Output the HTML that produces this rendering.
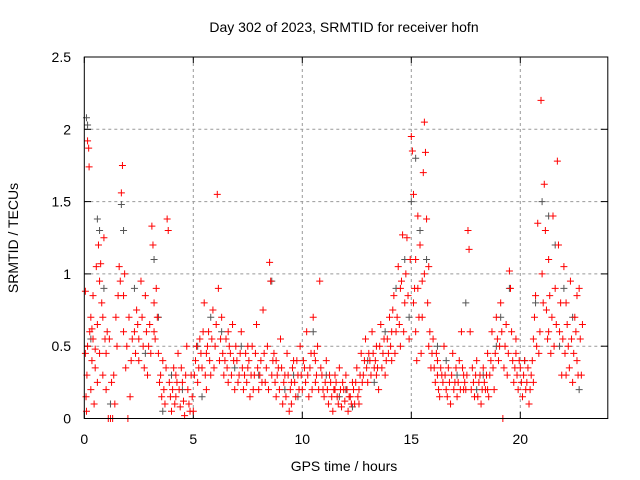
<!DOCTYPE html>
<html><head><meta charset="utf-8"><style>
html,body{margin:0;padding:0;background:#fff;}
svg{display:block;font-family:"Liberation Sans",sans-serif;}
</style></head><body>
<svg id="chart" width="640" height="480" viewBox="0 0 640 480" xmlns="http://www.w3.org/2000/svg">
<text x="344" y="32" font-size="14" text-anchor="middle">Day 302 of 2023, SRMTID for receiver hofn</text>
<text x="344" y="471" font-size="14" text-anchor="middle">GPS time / hours</text>
<text x="18" y="238" font-size="14" text-anchor="middle" transform="rotate(-90 18 238)">SRMTID / TECUs</text>
<g id="grid"></g>
<g id="ticks"></g>
<g id="gray"></g>
<g id="red"></g>
<rect x="84.3" y="57" width="523.5" height="361.5" fill="none" stroke="#000" stroke-width="1"/>
</svg>
<script>
const xTicks=[0,5,10,15,20];
const yTicks=[0,0.5,1,1.5,2,2.5];
const yTickLabels=["0","0.5","1","1.5","2","2.5"];
const grayPoints=[[0.1,2.08],[0.15,2.03],[0.3,0.55],[0.6,1.38],[0.7,1.3],[0.9,0.9],[1.7,1.48],[1.8,1.3],[2.3,0.9],[3.2,1.1],[3.4,0.7],[4.0,0.3],[4.5,0.2],[5.2,0.5],[5.8,0.7],[6.3,0.6],[7.2,0.5],[8.0,0.3],[8.6,0.95],[9.2,0.2],[9.8,0.15],[10.5,0.6],[11.1,0.3],[12.0,0.2],[13.0,0.4],[13.8,0.6],[14.3,0.9],[14.7,1.1],[15.0,1.5],[15.2,1.8],[15.4,1.3],[15.7,1.1],[16.2,0.5],[17.1,0.3],[17.5,0.8],[18.3,0.3],[19.1,0.7],[19.5,0.9],[20.2,0.4],[20.7,0.8],[21.0,1.5],[21.3,1.4],[21.6,1.2],[22.0,0.9],[22.4,0.7],[22.7,0.2],[3.6,0.05],[12.3,0.08],[1.2,0.1],[18.9,0.5],[6.9,0.35],[9.6,0.3],[13.3,0.25],[16.6,0.4],[18.0,0.2],[21.8,0.5],[2.8,0.45],[5.4,0.15],[11.7,0.15],[14.9,0.7]];
const redPoints=[
[0.05,0.88],[0.05,0.45],[0.08,0.15],[0.1,0.05],[0.12,0.3],[0.15,1.92],[0.2,1.87],[0.22,1.74],[0.25,0.6],[0.3,0.7],[0.3,0.2],[0.35,0.4],[0.4,0.85],[0.45,0.1],[0.5,0.35],[0.55,1.05],[0.6,0.65],[0.65,1.2],[0.7,0.45],[0.75,1.07],[0.8,0.8],[0.85,0.3],[0.9,1.25],[0.95,0.55],[1.0,0.2],[1.05,0.6],[1.1,0],[1.2,0],[1.3,0],[1.25,0.25],[1.4,0.1],[1.5,0.5],[1.55,0.85],[1.6,1.05],[1.65,0.95],[1.7,1.56],[1.75,1.75],[1.8,0.6],[1.9,0.35],[2.0,0],[2.05,0.7],[2.1,0.15],[2.2,0.55],[2.3,0.6],[2.4,0.75],[2.5,0.4],[2.6,0.95],[2.7,0.5],[2.8,0.85],[2.9,0.3],[3.0,0.65],[3.1,1.33],[3.15,1.2],[3.2,0.8],[3.3,0.9],[3.4,0.45],[3.5,0.3],[3.55,0.15],[3.6,0.4],[3.7,0.1],[3.8,1.38],[3.85,1.3],[3.9,0.25],[4.0,0.05],[4.1,0.35],[4.2,0.15],[4.3,0.45],[4.4,0.08],[4.5,0.25],[4.6,0.02],[4.7,0.5],[4.8,0.1],[4.9,0.3],[5.0,0.05],[5.1,0.4],[5.2,0.25],[5.3,0.55],[5.4,0.35],[5.5,0.8],[5.6,0.45],[5.7,0.6],[5.8,0.3],[5.9,0.75],[6.0,0.5],[6.1,1.55],[6.15,0.9],[6.2,0.4],[6.3,0.7],[6.4,0.3],[6.5,0.55],[6.6,0.25],[6.7,0.45],[6.8,0.65],[6.9,0.2],[7.0,0.4],[7.1,0.3],[7.2,0.6],[7.3,0.2],[7.4,0.45],[7.5,0.35],[7.6,0.15],[7.7,0.5],[7.8,0.3],[7.9,0.65],[8.0,0.2],[8.1,0.4],[8.2,0.75],[8.3,0.25],[8.4,0.5],[8.5,1.08],[8.55,0.95],[8.6,0.3],[8.7,0.45],[8.8,0.15],[8.9,0.35],[9.0,0.55],[9.1,0.1],[9.2,0.3],[9.3,0.45],[9.4,0.05],[9.5,0.25],[9.6,0.4],[9.7,0.15],[9.8,0.3],[9.9,0.5],[10.0,0.2],[10.1,0.35],[10.2,0.6],[10.3,0.15],[10.4,0.45],[10.5,0.7],[10.6,0.25],[10.7,0.5],[10.8,0.95],[10.9,0.3],[11.0,0.15],[11.1,0.4],[11.2,0.1],[11.3,0.25],[11.4,0.05],[11.5,0.3],[11.6,0.15],[11.7,0.35],[11.8,0.08],[11.9,0.2],[12.0,0.3],[12.1,0.05],[12.2,0.15],[12.3,0.25],[12.4,0.1],[12.5,0.35],[12.6,0.2],[12.7,0.45],[12.8,0.3],[12.9,0.55],[13.0,0.25],[13.1,0.4],[13.2,0.6],[13.3,0.35],[13.4,0.5],[13.5,0.2],[13.6,0.65],[13.7,0.45],[13.8,0.3],[13.9,0.55],[14.0,0.7],[14.1,0.4],[14.2,0.85],[14.3,0.6],[14.4,1.05],[14.5,0.5],[14.6,1.27],[14.7,0.8],[14.8,1.25],[14.9,0.55],[15.0,1.95],[15.05,1.85],[15.1,1.55],[15.15,0.9],[15.2,1.1],[15.25,0.4],[15.3,1.4],[15.35,0.7],[15.4,1.2],[15.45,0.45],[15.5,0.95],[15.55,1.7],[15.6,2.05],[15.65,1.84],[15.7,1.38],[15.75,0.8],[15.8,1.05],[15.85,0.6],[15.9,0.35],[16.0,0.55],[16.1,0.25],[16.2,0.4],[16.3,0.15],[16.4,0.3],[16.5,0.5],[16.6,0.2],[16.7,0.35],[16.8,0.1],[16.9,0.45],[17.0,0.25],[17.1,0.15],[17.2,0.4],[17.3,0.6],[17.4,0.3],[17.5,0.2],[17.6,1.3],[17.65,1.17],[17.7,0.6],[17.8,0.35],[17.9,0.15],[18.0,0.4],[18.1,0.25],[18.2,0.1],[18.3,0.35],[18.4,0.2],[18.5,0.45],[18.6,0.3],[18.7,0.6],[18.8,0.2],[18.9,0.7],[19.0,0.4],[19.1,0.8],[19.2,0],[19.3,0.5],[19.4,0.3],[19.5,1.02],[19.55,0.9],[19.6,0.6],[19.7,0.25],[19.8,0.45],[19.9,0.2],[20.0,0.35],[20.1,0.15],[20.2,0.4],[20.3,0.25],[20.4,0.1],[20.5,0.3],[20.6,0.55],[20.7,0.85],[20.8,1.35],[20.9,0.6],[20.95,2.2],[21.0,1.0],[21.1,1.62],[21.15,1.3],[21.2,0.75],[21.3,1.1],[21.4,0.45],[21.5,1.4],[21.6,0.9],[21.7,1.78],[21.75,1.2],[21.8,0.6],[21.9,0.3],[22.0,1.05],[22.1,0.8],[22.2,0.5],[22.3,0.95],[22.4,0.25],[22.5,0.7],[22.6,0.4],[22.7,0.9],[22.75,0.55],[22.8,0.3],[0.4,0.55],[0.6,0.25],[1.8,0.85],[2.5,0.55],[3.2,0.6],[4.2,0.3],[5.6,0.2],[6.6,0.6],[7.5,0.5],[8.8,0.4],[9.5,0.1],[10.6,0.4],[11.5,0.2],[12.6,0.1],[13.4,0.3],[14.1,0.6],[14.5,0.9],[15.2,0.6],[16.2,0.3],[17.4,0.2],[18.5,0.2],[19.8,0.55],[20.6,0.25],[21.3,0.6],[22.1,0.3],[22.6,0.85]];
const redPointsExtra=[
[0.15,0.5],[0.35,0.62],[0.5,0.48],[0.7,0.95],[0.85,0.7],[1.0,0.45],[1.15,0.55],[1.35,0.3],[1.45,0.7],[1.85,1.0],[1.95,0.5],[2.15,0.4],[2.35,0.45],[2.45,0.65],[2.65,0.7],[2.75,0.35],[2.85,0.6],[2.95,0.5],[3.05,0.45],[3.25,0.55],[3.35,0.7],[3.45,0.25],[3.65,0.2],[3.75,0.35],[3.95,0.15],[4.05,0.2],[4.15,0.1],[4.25,0.25],[4.35,0.2],[4.45,0.35],[4.55,0.12],[4.65,0.3],[4.75,0.2],[4.85,0.05],[4.95,0.15],
[5.05,0.3],[5.15,0.5],[5.25,0.35],[5.35,0.45],[5.45,0.6],[5.55,0.3],[5.65,0.5],[5.75,0.4],[5.85,0.55],[5.95,0.35],[6.05,0.65],[6.25,0.55],[6.35,0.45],[6.45,0.4],[6.55,0.35],[6.65,0.5],[6.75,0.3],[6.85,0.4],[6.95,0.5],[7.05,0.25],[7.15,0.45],[7.25,0.35],[7.35,0.3],[7.45,0.25],[7.55,0.4],[7.65,0.3],[7.75,0.2],[7.85,0.45],[7.95,0.35],[8.05,0.3],[8.15,0.25],[8.25,0.45],[8.35,0.35],[8.45,0.2],[8.65,0.4],[8.75,0.25],[8.85,0.3],[8.95,0.2],[9.05,0.35],[9.15,0.25],[9.25,0.15],[9.35,0.3],[9.45,0.2],[9.55,0.35],[9.65,0.25],[9.75,0.4],[9.85,0.2],[9.95,0.3],[10.05,0.4],[10.15,0.25],[10.25,0.3],[10.35,0.35],[10.45,0.2],[10.55,0.45],[10.65,0.3],[10.75,0.2],[10.85,0.35],[10.95,0.2],[11.05,0.25],[11.15,0.2],[11.25,0.3],[11.35,0.15],[11.45,0.2],[11.55,0.25],[11.65,0.1],[11.75,0.2],[11.85,0.25],[11.95,0.12],[12.05,0.2],[12.15,0.15],[12.25,0.1],[12.35,0.2],[12.45,0.25],[12.55,0.15],[12.65,0.3],[12.75,0.25],[12.85,0.4],[12.95,0.35],[13.05,0.45],[13.15,0.3],[13.25,0.45],[13.35,0.4],[13.45,0.35],[13.55,0.5],[13.65,0.35],[13.75,0.55],[13.85,0.4],[13.95,0.45],[14.05,0.5],[14.15,0.75],[14.25,0.45],[14.35,0.7],[14.45,0.65],[14.55,0.95],[14.65,0.6],[14.75,1.0],[14.85,0.85],[14.95,1.1],[15.1,0.8],[15.3,0.9],[15.5,0.7],[15.6,1.0],[15.8,0.5],[15.95,0.45],
[16.05,0.35],[16.15,0.45],[16.25,0.2],[16.35,0.35],[16.45,0.25],[16.55,0.3],[16.65,0.15],[16.75,0.25],[16.85,0.3],[16.95,0.2],[17.05,0.35],[17.15,0.25],[17.25,0.2],[17.35,0.35],[17.45,0.25],[17.55,0.3],[17.75,0.2],[17.85,0.25],[17.95,0.3],[18.05,0.15],[18.15,0.3],[18.25,0.2],[18.35,0.25],[18.45,0.3],[18.55,0.15],[18.65,0.4],[18.75,0.35],[18.85,0.45],[18.95,0.55],[19.05,0.5],[19.15,0.6],[19.25,0.35],[19.35,0.65],[19.45,0.45],[19.65,0.4],[19.75,0.35],[19.85,0.3],[19.95,0.4],[20.05,0.25],[20.15,0.3],[20.25,0.2],[20.35,0.35],[20.45,0.2],[20.55,0.4],[20.65,0.7],[20.75,0.5],[20.85,0.45],[21.05,0.8],[21.25,0.55],[21.35,0.85],[21.45,0.7],[21.55,0.5],[21.65,0.65],[21.85,0.8],[21.95,0.55],[22.05,0.45],[22.15,0.65],[22.25,0.35],[22.35,0.55],[22.45,0.45],[22.55,0.6],[22.65,0.3],[22.85,0.65]];
const X0=84.3,PX=21.8,Y0=418.5,PY=144.6;
function sx(t){return X0+t*PX;}
function sy(v){return Y0-v*PY;}
const NS="http://www.w3.org/2000/svg";
const grid=document.getElementById('grid'),ticks=document.getElementById('ticks');
function mk(tag,attrs,parent){const e=document.createElementNS(NS,tag);for(const k in attrs)e.setAttribute(k,attrs[k]);parent.appendChild(e);return e;}
xTicks.forEach(t=>{
 const x=sx(t);
 if(t>0){const g=mk('line',{x1:x,x2:x,y1:57,y2:418.5,stroke:'#999','stroke-dasharray':'3,3'},grid);
 
 }
 mk('line',{x1:x,x2:x,y1:418.5,y2:412,stroke:'#000'},ticks);
 mk('line',{x1:x,x2:x,y1:57,y2:63,stroke:'#000'},ticks);
 const l=mk('text',{x:x,y:444,'font-size':14,'text-anchor':'middle'},ticks);l.textContent=t;
 
 
});
yTicks.forEach((v,i)=>{
 const y=sy(v);
 if(v>0&&v<2.5){const g=mk('line',{x1:84.3,x2:607.8,y1:y,y2:y,stroke:'#999','stroke-dasharray':'3,3'},grid);
 
 }
 mk('line',{x1:84.3,x2:91,y1:y,y2:y,stroke:'#000'},ticks);
 mk('line',{x1:601,x2:607.8,y1:y,y2:y,stroke:'#000'},ticks);
 const l=mk('text',{x:71,y:y+5,'font-size':14,'text-anchor':'end'},ticks);l.textContent=yTickLabels[i];
 
 
});
function plus(pts,color,g,name){
 pts.forEach(p=>{const x=sx(p[0]),y=sy(p[1]);
 const e=mk('path',{d:`M${x-3.5},${y}h7M${x},${y-3.5}v7`,stroke:color,'stroke-width':1,fill:'none'},g);
 
 });
}
plus(grayPoints,'#555',document.getElementById('gray'),'gray-point');
plus(redPoints,'#f00',document.getElementById('red'),'red-point');
plus(redPointsExtra,'#f00',document.getElementById('red'),'red-point');
</script>
</body></html>
